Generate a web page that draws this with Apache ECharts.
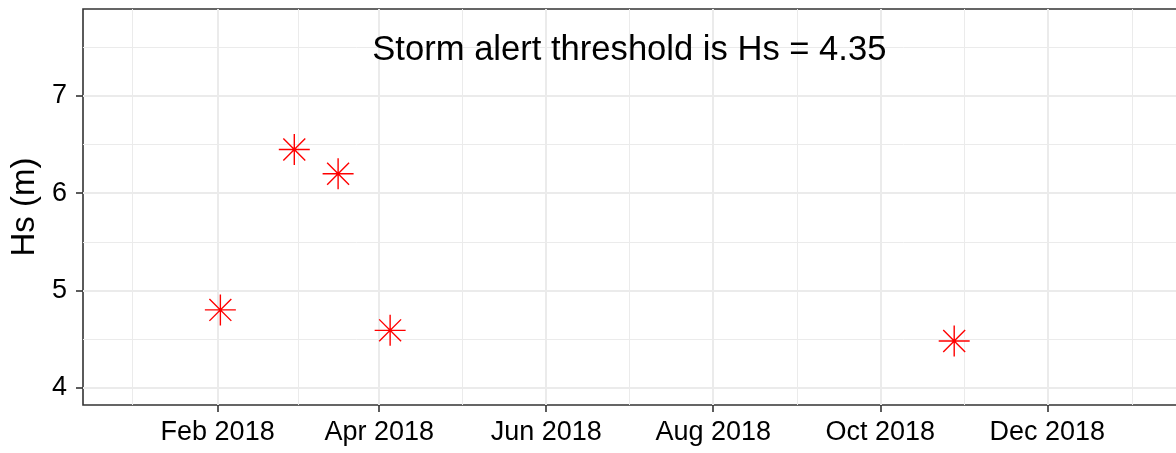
<!DOCTYPE html>
<html>
<head>
<meta charset="utf-8">
<script src="https://cdn.jsdelivr.net/npm/echarts@6/dist/echarts.min.js"></script>
<style>
  html, body { margin: 0; padding: 0; background: #fff; }
  #chart { width: 1176px; height: 453px; }
</style>
</head>
<body>
<div id="chart"></div>
<script>
// storm events (date, Hs in m)
const stormDates = ['2018-02-02', '2018-03-01', '2018-03-17', '2018-04-05', '2018-10-28']
const stormHs = [4.8, 6.45, 6.2, 4.59, 4.48]

// axis breaks
const xMajorDates = ['2018-02-01', '2018-04-01', '2018-06-01', '2018-08-01', '2018-10-01', '2018-12-01']
const xMajorLabels = ['Feb 2018', 'Apr 2018', 'Jun 2018', 'Aug 2018', 'Oct 2018', 'Dec 2018']
const xMinorDates = ['2018-01-01', '2018-03-02T12:00', '2018-05-01T12:00', '2018-07-01T12:00', '2018-08-31T12:00', '2018-10-31T12:00', '2019-01-01']
const yMajor = [4, 5, 6, 7]
const yMinor = [4.5, 5.5, 6.5, 7.5]

const noteText = 'Storm alert threshold is Hs = 4.35'
const notePos = ['2018-07-01', 7.5]

const xMin = '2017-12-13T20:00'
const xMax = '2019-01-18T05:00'
const yMin = 3.822
const yMax = 7.895

const font = 'Liberation Sans, Arial, sans-serif'
const gridGrey = '#EBEBEB'
const dark = '#333333'

// dates -> ms, drawn on a plain value axis
const ts = d => new Date(d + (d.length === 10 ? 'T00:00' : '')).getTime()
const labelByTime = {}
xMajorDates.forEach((d, i) => { labelByTime[ts(d)] = xMajorLabels[i] })

const star = 'path://M0,-1 L0,1 M-1,0 L1,0 M-0.7071,-0.7071 L0.7071,0.7071 M-0.7071,0.7071 L0.7071,-0.7071'

const myChart = echarts.init(document.getElementById('chart'))

const option = {
  animation: false,
  backgroundColor: '#fff',
  grid: {
    left: 83,
    right: -3.3,
    top: 9,
    bottom: 48,
    outerBoundsMode: 'none',
    show: true,
    backgroundColor: '#fff',
    borderColor: dark,
    borderWidth: 1.6
  },
  xAxis: [
    {
      type: 'value',
      min: ts(xMin),
      max: ts(xMax),
      axisLine: { show: false },
      axisTick: { show: true, length: 7, lineStyle: { color: dark, width: 1.6 }, customValues: xMajorDates.map(ts) },
      axisLabel: {
        customValues: xMajorDates.map(ts),
        fontFamily: font,
        fontSize: 27,
        color: '#000',
        margin: 14,
        formatter: v => labelByTime[v] || ''
      },
      splitLine: { show: true, lineStyle: { color: gridGrey, width: 2 } }
    },
    {
      type: 'value',
      min: ts(xMin),
      max: ts(xMax),
      axisLine: { show: false },
      axisTick: { show: false, customValues: xMinorDates.map(ts) },
      axisLabel: { show: false, customValues: xMinorDates.map(ts) },
      splitLine: { show: true, lineStyle: { color: gridGrey, width: 1 } }
    }
  ],
  yAxis: [
    {
      type: 'value',
      min: yMin,
      max: yMax,
      name: 'Hs (m)',
      nameLocation: 'middle',
      nameGap: 38,
      nameTextStyle: { fontFamily: font, fontSize: 33, color: '#000' },
      axisLine: { show: false },
      axisTick: { show: true, length: 7, lineStyle: { color: dark, width: 1.6 }, customValues: yMajor },
      axisLabel: { customValues: yMajor, fontFamily: font, fontSize: 27, color: '#000', margin: 16 },
      splitLine: { show: true, lineStyle: { color: gridGrey, width: 2 } }
    },
    {
      type: 'value',
      min: yMin,
      max: yMax,
      axisLine: { show: false },
      axisTick: { show: false, customValues: yMinor },
      axisLabel: { show: false, customValues: yMinor },
      splitLine: { show: true, lineStyle: { color: gridGrey, width: 1 } }
    }
  ],
  series: [
    {
      type: 'scatter',
      data: stormDates.map((d, i) => [ts(d), stormHs[i]]),
      symbol: star,
      symbolSize: 31,
      itemStyle: { color: 'rgba(0,0,0,0)', borderColor: '#FF0000', borderWidth: 1.4, opacity: 1 },
      z: 3
    },
    {
      type: 'scatter',
      data: [[ts(notePos[0]), notePos[1]]],
      symbolSize: 0,
      silent: true,
      itemStyle: { opacity: 1 },
      label: {
        show: true,
        position: [1, 3],
        align: 'center',
        verticalAlign: 'middle',
        formatter: noteText,
        fontFamily: font,
        fontSize: 34.6,
        color: '#000',
        textBorderWidth: 0
      },
      z: 4
    }
  ]
}

myChart.setOption(option)
</script>
</body>
</html>
